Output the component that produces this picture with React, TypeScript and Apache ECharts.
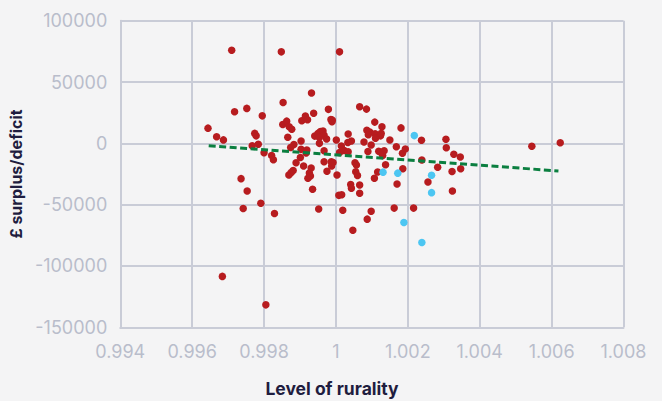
import React, { useEffect, useRef } from "react";
import * as echarts from "echarts";

// Level of rurality vs £ surplus/deficit
const redPoints: [number, number][] = [
  [0.99644, 12400], [0.99668, 5400], [0.99687, 2800], [0.9971, 75900], [0.99718, 25700],
  [0.99752, 28500], [0.99736, -28800], [0.99753, -38900], [0.99742, -53200], [0.99791, -48800],
  [0.99684, -108500], [0.99805, -131700], [0.99767, -2000], [0.99774, 8100], [0.99778, 6100],
  [0.99784, -800], [0.99795, 22400], [0.998, -7700], [0.99821, -9900], [0.99826, -13300],
  [0.99829, -57200], [0.99848, 74600], [0.99853, 33300], [0.99852, 15300], [0.99863, 18100],
  [0.9987, 13500], [0.99877, 11500], [0.99866, 4900], [0.99883, -1000], [0.99874, -3400],
  [0.99903, 1900], [0.99905, 18400], [0.99915, 22200], [0.99921, 19200], [0.99938, 24500],
  [0.99932, 41100], [0.99903, -4900], [0.99919, -5400], [0.99917, -7900], [0.99901, -11500],
  [0.99889, -15800], [0.9991, -18500], [0.99869, -25800], [0.99875, -23900], [0.99881, -22100],
  [0.99931, -20100], [0.99926, -24100], [0.99929, -26600], [0.99922, -28500], [0.99935, -37400],
  [0.99952, -53600], [0.99941, 5900], [0.9995, 8100], [0.99957, 9600], [0.99964, 10000],
  [0.99967, 6700], [0.99954, 4700], [0.99974, 3500], [0.99954, 0], [0.99967, -6100],
  [0.99967, -15000], [0.99987, -15000], [0.99988, -18500], [0.99975, -22800], [1.00003, -25800],
  [0.99979, 27700], [0.99986, 19500], [0.99989, 17700], [1.00001, 2700], [1.0001, -7500],
  [1.00015, -2200], [1.00023, -5900], [1.00034, -6800], [1.00008, -42400], [1.00016, -41900],
  [1.00019, -54600], [1.0001, 74600], [0.9999, 18900], [1.00034, 7600], [1.00043, 1900],
  [1.00033, 700], [1.00066, 29800], [1.00085, 27900], [1.00078, 1100], [1.00086, 10700],
  [1.00094, 9200], [1.0009, 7000], [1.00108, 17300], [1.00128, 13500], [1.00109, 7800],
  [1.0011, 4100], [1.00124, 6100], [1.00126, 8100], [1.00098, -1400], [1.00089, -6700],
  [1.00119, -6500], [1.00126, -7600], [1.00134, -6000], [1.0013, -9900], [1.0015, 2700],
  [1.00168, -2800], [1.00181, 12600], [1.00185, -8100], [1.00193, -4600], [1.00053, -15800],
  [1.00057, -17600], [0.99992, -15600], [1.00055, -23100], [1.0006, -26200], [1.00041, -33500],
  [1.00043, -36600], [1.00066, -33900], [1.00066, -40700], [1.00138, -17400], [1.00116, -23300],
  [1.00107, -28500], [1.0017, -33100], [1.00186, -20700], [1.00098, -55400], [1.00087, -61800],
  [1.00047, -70900], [1.00162, -52800], [1.00216, -52800], [1.00238, 2500], [1.00239, -13600],
  [1.00256, -31500], [1.00283, -19500], [1.00306, 3300], [1.00307, -3600], [1.00328, -8900],
  [1.00346, -11100], [1.00347, -20700], [1.00323, -22900], [1.00324, -38900], [1.00545, -2400],
  [1.00624, 500],
];

const bluePoints: [number, number][] = [
  [1.00218, 6300], [1.00131, -23500], [1.00172, -24300], [1.00266, -26000],
  [1.00266, -40200], [1.00189, -64600], [1.00239, -80800],
];

const trendLine: [number, number][] = [
  [0.99646, -1950],
  [1.00619, -22500],
];

const xMin = 0.994;
const xMax = 1.008;
const xStep = 0.002;
const yMin = -150000;
const yMax = 100000;
const yStep = 50000;

const xAxisTitle = "Level of rurality";
const yAxisTitle = "£ surplus/deficit";

export default function App() {
  const ref = useRef<HTMLDivElement>(null);
  useEffect(() => {
    document.body.style.margin = "0";
    if (!ref.current) return;
    const chart = echarts.init(ref.current, undefined, { renderer: "svg" });
    const labelColor = "#b9bdcb";
    const gridColor = "#c9ccd7";
    chart.setOption({
      animation: false,
      backgroundColor: "#f4f4f5",
      textStyle: { fontFamily: "Inter" },
      grid: { left: 116, right: 38.5, top: 20.7, bottom: 73.7 },
      xAxis: {
        type: "value",
        min: xMin,
        max: xMax,
        interval: xStep,
        axisLine: { show: true, onZero: false, lineStyle: { color: gridColor, width: 2 } },
        axisTick: { show: false },
        splitLine: { show: true, lineStyle: { color: gridColor, width: 2 } },
        axisLabel: {
          color: labelColor,
          fontSize: 18,
          margin: 15,
          fontFamily: "Inter",
          formatter: (v: number) => String(parseFloat(v.toFixed(3))),
        },
      },
      yAxis: {
        type: "value",
        min: yMin,
        max: yMax,
        interval: yStep,
        name: yAxisTitle,
        nameLocation: "middle",
        nameGap: 88,
        nameTextStyle: { color: "#1f1d3f", fontSize: 16, fontWeight: "bold", fontFamily: "Inter" },
        axisLine: { show: true, lineStyle: { color: gridColor, width: 2 } },
        axisTick: { show: false },
        splitLine: { show: true, lineStyle: { color: gridColor, width: 2 } },
        axisLabel: {
          color: labelColor,
          fontSize: 18,
          margin: 13,
          fontFamily: "Inter",
          formatter: (v: number) => String(v),
        },
      },
      graphic: [
        {
          type: "text",
          x: 332,
          y: 388,
          style: {
            text: xAxisTitle,
            fill: "#1f1d3f",
            font: "bold 17.5px Inter",
            textAlign: "center",
            textVerticalAlign: "middle",
          },
        },
      ],
      series: [
        {
          type: "scatter",
          data: redPoints,
          symbolSize: 7.5,
          itemStyle: { color: "#b71c1f", opacity: 1 },
          z: 2,
        },
        {
          type: "scatter",
          data: bluePoints,
          symbolSize: 7.5,
          itemStyle: { color: "#4cc6f2", opacity: 1 },
          z: 2,
        },
        {
          type: "line",
          data: trendLine,
          symbol: "none",
          lineStyle: { color: "#0b7f40", width: 3, type: [7, 3.5] },
          z: 3,
        },
      ],
    });
    return () => chart.dispose();
  }, []);
  return <div ref={ref} style={{ width: 662, height: 401 }} />;
}
